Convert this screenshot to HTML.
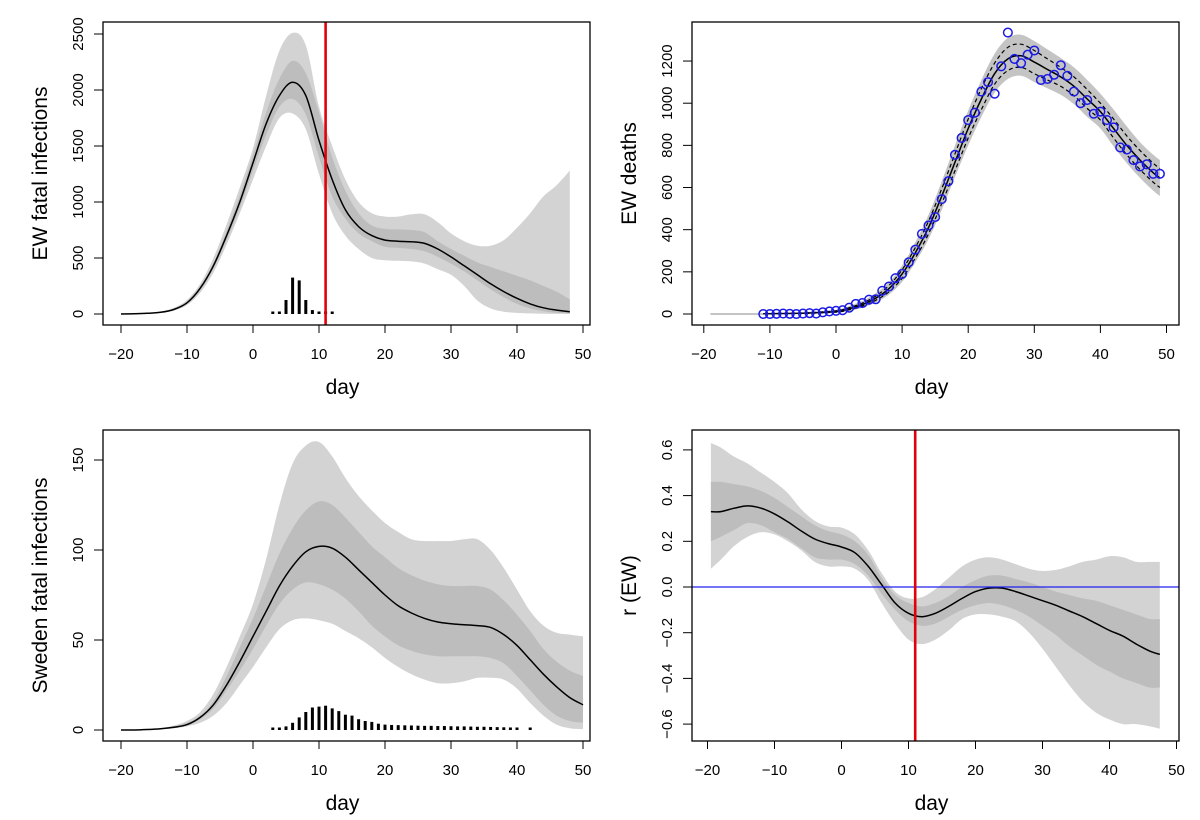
<!DOCTYPE html>
<html><head><meta charset="utf-8"><style>
html,body{margin:0;padding:0;background:#fff;}
svg{display:block;font-family:"Liberation Sans",Arial,sans-serif;}
</style></head><body>
<svg id="fig" width="1200" height="820" viewBox="0 0 1200 820" xmlns="http://www.w3.org/2000/svg"></svg>
<script>
// ---------- Panel 1: EW fatal infections ----------
const p1Days = [-20,-18,-16,-14,-12,-10,-8,-6,-4,-2,0,2,4,6,8,10,12,14,16,18,20,22,24,26,28,30,32,34,36,38,40,42,44,46,48];
const p1Median = [0,2,6,15,40,100,230,430,700,1000,1350,1700,1950,2070,1950,1550,1200,930,780,700,660,650,645,630,580,510,430,350,270,200,140,90,55,35,20];
const p1OuterHi = [0,3,8,20,55,125,270,500,800,1130,1480,1950,2350,2510,2400,1850,1500,1200,1000,900,870,870,890,890,820,720,650,610,610,660,770,900,1050,1150,1280];
const p1OuterLo = [0,1,4,10,30,80,190,370,620,900,1200,1500,1750,1790,1650,1250,900,700,580,500,480,475,470,450,400,350,250,120,50,20,10,5,2,1,0];
const p1InnerHi = [0,2,7,17,45,110,245,455,740,1060,1420,1800,2100,2260,2150,1800,1400,1100,900,790,760,755,750,730,650,580,520,460,420,380,340,300,250,200,130];
const p1InnerLo = [0,1,5,13,35,90,210,405,660,950,1280,1600,1850,1920,1780,1400,1050,850,720,650,600,590,580,560,510,450,380,300,220,150,90,50,25,10,5];
const p1SpikeDays = [3,4,5,6,7,8,9,10,11,12];
const p1SpikeVals = [8,20,125,325,300,125,35,8,8,8];
const p1YTicks = [0,500,1000,1500,2000,2500];
const xTicks = [-20,-10,0,10,20,30,40,50];
const interventionDay = 11;

// ---------- Panel 2: EW deaths ----------
const p2ObsDays = [-11,-10,-9,-8,-7,-6,-5,-4,-3,-2,-1,0,1,2,3,4,5,6,7,8,9,10,11,12,13,14,15,16,17,18,19,20,21,22,23,24,25,26,27,28,29,30,31,32,33,34,35,36,37,38,39,40,41,42,43,44,45,46,47,48,49];
const p2ObsVals = [0,0,1,2,1,0,2,4,2,8,12,15,18,30,48,52,68,70,110,130,170,190,245,305,380,420,460,545,630,755,835,920,955,1055,1100,1045,1175,1335,1210,1190,1230,1250,1110,1115,1135,1180,1130,1055,1000,1015,950,960,920,885,790,780,730,700,710,665,665];
const p2FitDays = [-11,-5,0,2,4,6,8,10,12,14,16,18,20,22,24,26,28,30,32,34,36,38,40,42,44,46,48,49];
const p2Fit = [1,4,12,25,45,75,120,190,290,410,560,720,880,1020,1140,1210,1225,1195,1160,1125,1080,1020,960,880,800,730,670,645];
const p2DashHi = [1,5,15,30,52,85,135,210,315,440,595,760,925,1070,1190,1265,1280,1250,1210,1170,1125,1065,1000,925,845,775,715,690];
const p2DashLo = [1,3,9,20,38,65,105,170,265,380,525,680,835,970,1090,1155,1170,1140,1110,1080,1035,975,920,835,755,685,625,600];
const p2GrayHi = [2,8,20,38,62,98,150,230,340,470,630,800,965,1110,1235,1310,1325,1295,1255,1215,1170,1110,1045,970,890,815,755,730];
const p2GrayLo = [0,2,6,15,30,55,92,152,245,355,495,650,800,935,1050,1115,1130,1100,1070,1040,995,935,880,795,715,645,585,560];
const p2PreDays = [-19,-11];
const p2PreVals = [0,0];
const p2YTicks = [0,200,400,600,800,1000,1200];

// ---------- Panel 3: Sweden fatal infections ----------
const p3Days = [-20,-18,-16,-14,-12,-10,-8,-6,-4,-2,0,2,4,6,8,10,12,14,16,18,20,22,24,26,28,30,32,34,36,38,40,42,44,46,48,50];
const p3Median = [0,0,0.3,0.7,1.5,3,7,14,25,38,52,66,80,91,99,102,101,96,89,82,75,69,65,62,60,59,58.5,58,57,53,47,39,31,24,18,14];
const p3OuterHi = [0,0,0.5,1,2.5,5,10,20,35,52,70,95,125,148,158,160,152,140,130,122,115,110,106,105,105,105,106,106,100,90,78,66,58,54,53,52];
const p3OuterLo = [0,0,0,0.5,1,2,4,8,15,25,35,46,56,61,62,61,59,55,51,46,40,35,31,28,26,26,27,29,29,28,23,15,8,3,1,0.5];
const p3InnerHi = [0,0,0.4,0.9,2,4,8,16,30,46,62,80,98,112,122,127,125,118,110,102,96,90,86,83,81,80,80,80,78,72,64,55,45,38,33,30];
const p3InnerLo = [0,0,0.2,0.5,1,2.5,6,12,22,33,45,58,70,78,82,81,78,73,66,58,52,47,44,42,41,41,41,41,40,37,30,22,14,8,5,4];
const p3SpikeDays = [3,4,5,6,7,8,9,10,11,12,13,14,15,16,17,18,19,20,21,22,23,24,25,26,27,28,29,30,31,32,33,34,35,36,37,38,39,40,42];
const p3SpikeVals = [0.6,1,2,4,7,10,12.5,13,13.5,12,10.5,8.5,8,6,5,4.5,3.5,3,2.8,2.7,2.6,2.5,2.4,2.3,2.3,2.2,2.2,2.1,2,2,1.9,1.8,1.8,1.7,1.6,1.5,1.4,1.3,0.8];
const p3YTicks = [0,50,100,150];

// ---------- Panel 4: r (EW) ----------
const p4Days = [-19.5,-18,-16,-14,-12,-10,-8,-6,-4,-2,0,2,4,6,8,10,12,14,16,18,20,22,24,26,28,30,32,34,36,38,40,42,44,46,47.5];
const p4Median = [0.33,0.33,0.345,0.355,0.345,0.32,0.285,0.245,0.21,0.19,0.175,0.15,0.09,0.01,-0.07,-0.115,-0.13,-0.115,-0.085,-0.05,-0.02,-0.005,-0.005,-0.02,-0.04,-0.06,-0.08,-0.105,-0.13,-0.16,-0.19,-0.215,-0.25,-0.28,-0.295];
const p4OuterHi = [0.63,0.61,0.57,0.54,0.5,0.46,0.41,0.34,0.29,0.265,0.26,0.23,0.16,0.06,-0.02,-0.05,-0.045,-0.01,0.04,0.09,0.12,0.13,0.12,0.1,0.08,0.07,0.075,0.09,0.11,0.12,0.135,0.13,0.11,0.11,0.11];
const p4OuterLo = [0.08,0.12,0.18,0.22,0.24,0.23,0.2,0.16,0.11,0.09,0.09,0.08,0.03,-0.07,-0.16,-0.23,-0.25,-0.23,-0.19,-0.14,-0.12,-0.12,-0.13,-0.15,-0.2,-0.27,-0.35,-0.43,-0.5,-0.55,-0.58,-0.6,-0.6,-0.61,-0.62];
const p4InnerHi = [0.46,0.46,0.45,0.44,0.42,0.39,0.35,0.31,0.27,0.245,0.23,0.2,0.14,0.04,-0.035,-0.07,-0.085,-0.07,-0.04,0.0,0.03,0.05,0.05,0.035,0.02,0.0,-0.02,-0.035,-0.05,-0.06,-0.08,-0.1,-0.12,-0.14,-0.14];
const p4InnerLo = [0.2,0.22,0.25,0.28,0.27,0.24,0.21,0.17,0.13,0.12,0.12,0.1,0.05,-0.03,-0.1,-0.15,-0.17,-0.16,-0.13,-0.1,-0.08,-0.07,-0.08,-0.1,-0.13,-0.17,-0.21,-0.26,-0.3,-0.34,-0.37,-0.4,-0.42,-0.44,-0.44];
const p4YTicks = [-0.6,-0.4,-0.2,0.0,0.2,0.4,0.6];

const NS = "http://www.w3.org/2000/svg";
const svg = document.getElementById("fig");
function el(tag, attrs, parent) {
  const e = document.createElementNS(NS, tag);
  for (const k in attrs) e.setAttribute(k, attrs[k]);
  (parent || svg).appendChild(e);
  return e;
}
function fmt(v, dec) {
  const s = Math.abs(v).toFixed(dec);
  return (v < 0 ? "\u2212" : "") + s;
}
function pts(xs, ys, X, Y) {
  const n = Math.min(xs.length, ys.length), out = [];
  for (let i = 0; i < n; i++) out.push([X(xs[i]), Y(ys[i])]);
  return out;
}
// Catmull-Rom smoothing through points (continuing an existing path)
function smoothSeg(p, start) {
  let d = (start ? "M" : "L") + p[0][0].toFixed(1) + "," + p[0][1].toFixed(1);
  for (let i = 0; i < p.length - 1; i++) {
    const p0 = p[Math.max(0, i - 1)], p1 = p[i], p2 = p[i + 1], p3 = p[Math.min(p.length - 1, i + 2)];
    const c1x = p1[0] + (p2[0] - p0[0]) / 6, c1y = p1[1] + (p2[1] - p0[1]) / 6;
    const c2x = p2[0] - (p3[0] - p1[0]) / 6, c2y = p2[1] - (p3[1] - p1[1]) / 6;
    d += "C" + c1x.toFixed(1) + "," + c1y.toFixed(1) + " " + c2x.toFixed(1) + "," + c2y.toFixed(1) + " " + p2[0].toFixed(1) + "," + p2[1].toFixed(1);
  }
  return d;
}
function linePath(xs, ys, X, Y) { return smoothSeg(pts(xs, ys, X, Y), true); }
function bandPath(xs, hi, lo, X, Y) {
  const a = pts(xs, hi, X, Y), b = pts(xs, lo, X, Y).reverse();
  return smoothSeg(a, true) + smoothSeg(b, false) + "Z";
}

function makePanel(id, box, X, Y, yTicks, yDec, yTitle) {
  const g = el("g", {});
  
  
  const cp = el("clipPath", {id: id + "-clip"}, g);
  el("rect", {x: box.x0, y: box.y0, width: box.x1 - box.x0, height: box.y1 - box.y0}, cp);
  const plot = el("g", {"clip-path": "url(#" + id + "-clip)"}, g);
  
  
  const xa = el("g", {}, g);
  
  
  el("line", {x1: X(xTicks[0]), x2: X(xTicks[xTicks.length - 1]), y1: box.y1, y2: box.y1, stroke: "#000", "stroke-width": 1}, xa);
  xTicks.forEach(t => {
    const tk = el("line", {x1: X(t), x2: X(t), y1: box.y1, y2: box.y1 + 8, stroke: "#000", "stroke-width": 1}, xa);
    
    
    const tl = el("text", {x: X(t), y: box.y1 + 34, "font-size": 15, "text-anchor": "middle", fill: "#000"}, xa);
    tl.textContent = fmt(t, 0);
    
    
  });
  const xt = el("text", {x: (box.x0 + box.x1) / 2 - 4, y: box.y1 + 69, "font-size": 21, "text-anchor": "middle"}, xa);
  xt.textContent = "day";
  
  

  const ya = el("g", {}, g);
  
  
  el("line", {x1: box.x0, x2: box.x0, y1: Y(yTicks[0]), y2: Y(yTicks[yTicks.length - 1]), stroke: "#000"}, ya);
  yTicks.forEach(t => {
    const tk = el("line", {x1: box.x0 - 9, x2: box.x0, y1: Y(t), y2: Y(t), stroke: "#000"}, ya);
    
    
    const lx = box.x0 - 20;
    const tl = el("text", {x: lx, y: Y(t), "font-size": 15, "text-anchor": "middle", transform: "rotate(-90 " + lx + " " + Y(t) + ")"}, ya);
    tl.textContent = fmt(t, yDec);
    
    
  });
  const tx = box.x0 - 56, ty = (box.y0 + box.y1) / 2;
  const yt = el("text", {x: tx, y: ty, "font-size": 21, "text-anchor": "middle", transform: "rotate(-90 " + tx + " " + ty + ")"}, ya);
  yt.textContent = yTitle;
  
  
  return {g, plot, box};
}
function finishBox(p) {
  const r = el("rect", {x: p.box.x0, y: p.box.y0, width: p.box.x1 - p.box.x0, height: p.box.y1 - p.box.y0, fill: "none", stroke: "#000", "stroke-width": 1.3}, p.g);
  
  
}
const LIGHT = "#d3d3d3", DARK = "#bdbdbd";

// ===== Panel 1 =====
{
  const box = {x0: 103, y0: 22, x1: 590, y1: 325};
  const X = d => 253 + 6.6 * d;
  const Y = v => 314 - v * 0.112;
  const p = makePanel("ew-infections", box, X, Y, p1YTicks, 0, "EW fatal infections");
  const o = el("path", {d: bandPath(p1Days, p1OuterHi, p1OuterLo, X, Y), fill: LIGHT}, p.plot);
  
  
  const inn = el("path", {d: bandPath(p1Days, p1InnerHi, p1InnerLo, X, Y), fill: DARK}, p.plot);
  
  
  const m = el("path", {d: linePath(p1Days, p1Median, X, Y), fill: "none", stroke: "#000", "stroke-width": 1.5}, p.plot);
  
  
  for (let i = 0; i < p1SpikeDays.length; i++) {
    const s = el("line", {x1: X(p1SpikeDays[i]), x2: X(p1SpikeDays[i]), y1: Y(0), y2: Math.min(Y(p1SpikeVals[i]), Y(0) - 2.5), stroke: "#000", "stroke-width": 3}, p.plot);
    
    
  }
  const r = el("line", {x1: X(interventionDay), x2: X(interventionDay), y1: box.y0, y2: box.y1, stroke: "#e3000b", "stroke-width": 2.6}, p.plot);
  
  
  finishBox(p);
}
// ===== Panel 2 =====
{
  const box = {x0: 692, y0: 22, x1: 1179, y1: 325};
  const X = d => 836 + 6.61 * d;
  const Y = v => 314 - v * 0.2108;
  const p = makePanel("ew-deaths", box, X, Y, p2YTicks, 0, "EW deaths");
  const gb = el("path", {d: bandPath(p2FitDays, p2GrayHi, p2GrayLo, X, Y), fill: "#c4c4c4"}, p.plot);
  
  
  const pre = el("path", {d: linePath(p2PreDays, p2PreVals, X, Y), fill: "none", stroke: "#b0b0b0", "stroke-width": 1.5}, p.plot);
  
  
  const dh = el("path", {d: linePath(p2FitDays, p2DashHi, X, Y), fill: "none", stroke: "#000", "stroke-width": 1.2, "stroke-dasharray": "4,3"}, p.plot);
  
  
  const dl = el("path", {d: linePath(p2FitDays, p2DashLo, X, Y), fill: "none", stroke: "#000", "stroke-width": 1.2, "stroke-dasharray": "4,3"}, p.plot);
  
  
  const f = el("path", {d: linePath(p2FitDays, p2Fit, X, Y), fill: "none", stroke: "#000", "stroke-width": 1.5}, p.plot);
  
  
  for (let i = 0; i < p2ObsDays.length; i++) {
    const c = el("circle", {cx: X(p2ObsDays[i]), cy: Y(p2ObsVals[i]), r: 4.3, fill: "none", stroke: "#1a1ae6", "stroke-width": 1.5}, p.plot);
    
    
  }
  finishBox(p);
}
// ===== Panel 3 =====
{
  const box = {x0: 103, y0: 430, x1: 590, y1: 741};
  const X = d => 253 + 6.6 * d;
  const Y = v => 730 - v * 1.8;
  const p = makePanel("sweden-infections", box, X, Y, p3YTicks, 0, "Sweden fatal infections");
  const o = el("path", {d: bandPath(p3Days, p3OuterHi, p3OuterLo, X, Y), fill: LIGHT}, p.plot);
  
  
  const inn = el("path", {d: bandPath(p3Days, p3InnerHi, p3InnerLo, X, Y), fill: DARK}, p.plot);
  
  
  const m = el("path", {d: linePath(p3Days, p3Median, X, Y), fill: "none", stroke: "#000", "stroke-width": 1.5}, p.plot);
  
  
  for (let i = 0; i < p3SpikeDays.length; i++) {
    const s = el("line", {x1: X(p3SpikeDays[i]), x2: X(p3SpikeDays[i]), y1: Y(0), y2: Math.min(Y(p3SpikeVals[i]), Y(0) - 2.5), stroke: "#000", "stroke-width": 3}, p.plot);
    
    
  }
  finishBox(p);
}
// ===== Panel 4 =====
{
  const box = {x0: 692, y0: 430, x1: 1179, y1: 741};
  const X = d => 841.5 + 6.7 * d;
  const Y = v => 587 - v * 228.5;
  const p = makePanel("growth-rate", box, X, Y, p4YTicks, 1, "r (EW)");
  const o = el("path", {d: bandPath(p4Days, p4OuterHi, p4OuterLo, X, Y), fill: LIGHT}, p.plot);
  
  
  const inn = el("path", {d: bandPath(p4Days, p4InnerHi, p4InnerLo, X, Y), fill: DARK}, p.plot);
  
  
  const m = el("path", {d: linePath(p4Days, p4Median, X, Y), fill: "none", stroke: "#000", "stroke-width": 1.5}, p.plot);
  
  
  const z = el("line", {x1: box.x0, x2: box.x1, y1: Y(0), y2: Y(0), stroke: "#2020ee", "stroke-width": 1.3}, p.plot);
  
  
  const r = el("line", {x1: X(interventionDay), x2: X(interventionDay), y1: box.y0, y2: box.y1, stroke: "#e3000b", "stroke-width": 2.6}, p.plot);
  
  
  finishBox(p);
}
</script>
</body></html>
